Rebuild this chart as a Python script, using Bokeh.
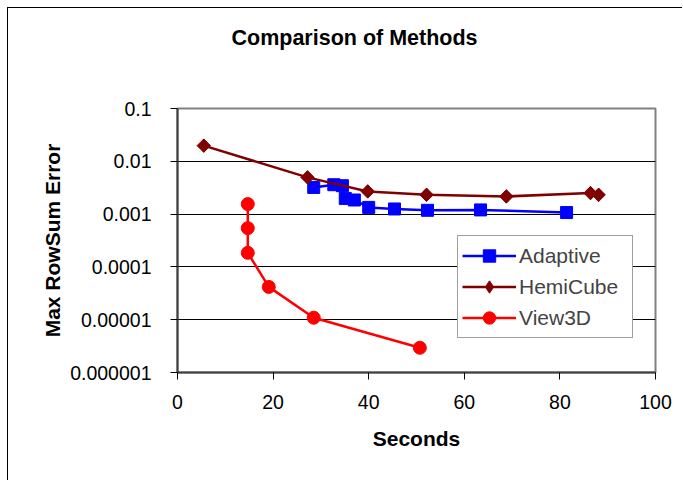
from bokeh.plotting import figure
from bokeh.models import (Range1d, FixedTicker, CustomJSTickFormatter, Legend, LegendItem, Title)
from bokeh.embed import file_html
from bokeh.resources import INLINE
import numpy as np

# ---- data ----
adaptive_x = [28.5, 32.7, 34.5, 35.1, 37.0, 40.0, 45.4, 52.3, 63.4, 81.4]
adaptive_y = [0.0032, 0.0036, 0.00345, 0.00198, 0.00185, 0.00134, 0.00125, 0.00118, 0.0012, 0.00107]

hemicube_x = [5.5, 27.2, 39.8, 52.1, 68.8, 86.4, 88.1]
hemicube_y = [0.0198, 0.00496, 0.00269, 0.00232, 0.00216, 0.0025, 0.00232]

view3d_x = [14.7, 14.7, 14.7, 19.1, 28.5, 50.7]
view3d_y = [0.00155, 0.000542, 0.000185, 0.0000418, 0.0000109, 0.00000294]

x_ticks = [0, 20, 40, 60, 80, 100]
y_ticks = [0.000001, 0.00001, 0.0001, 0.001, 0.01, 0.1]

title_text = "Comparison of Methods"
x_title = "Seconds"
y_title = "Max RowSum Error"

FONT = "Liberation Sans"

p = figure(width=675, height=473, y_axis_type="log",
           x_range=Range1d(0, 100), y_range=Range1d(1e-6, 0.1),
           output_backend="svg", toolbar_location=None, title=None,
           min_border_left=169, min_border_right=28, min_border_top=100, min_border_bottom=109)
p.styles = {"margin": "8px 0 0 8px", "box-shadow": "-1px -1px 0 0 black"}

p.outline_line_color = "#808080"
p.outline_line_width = 2
p.background_fill_color = "white"
p.border_fill_color = "white"

p.xgrid.grid_line_color = None
p.ygrid.grid_line_color = "black"
p.ygrid.grid_line_width = 1
p.ygrid.ticker = FixedTicker(ticks=y_ticks)

# axes
p.xaxis.ticker = FixedTicker(ticks=x_ticks)
p.yaxis.ticker = FixedTicker(ticks=y_ticks)
p.yaxis.formatter = CustomJSTickFormatter(code="""
const e = Math.round(Math.log10(tick));
return e >= 0 ? tick.toFixed(0) : tick.toFixed(-e);
""")
for ax in (p.xaxis, p.yaxis):
    ax.axis_line_color = "#404040"
    ax.axis_line_width = 2
    ax.major_tick_line_color = "black"
    ax.major_tick_line_width = 1
    ax.major_tick_in = 0
    ax.major_tick_out = 7
    ax.minor_tick_line_color = None
    ax.major_label_text_font = FONT
    ax.major_label_text_font_size = "19.5px"
    ax.major_label_text_color = "black"
    ax.axis_label_text_font = FONT
    ax.axis_label_text_font_style = "bold"
    ax.axis_label_text_font_size = "21px"
    ax.axis_label_text_color = "black"

p.yaxis.major_label_standoff = 19
p.xaxis.major_label_standoff = 15
p.xaxis.axis_label = x_title
p.yaxis.axis_label = y_title
p.xaxis.axis_label_standoff = 15
p.yaxis.axis_label_standoff = 3

# series
r_a_line = p.line(adaptive_x, adaptive_y, line_color="#0000FF", line_width=2.5)
r_a_pts = p.scatter(adaptive_x, adaptive_y, marker="square", size=12,
                    fill_color="#0000FF", line_color="#0000FF")

r_h_line = p.line(hemicube_x, hemicube_y, line_color="#800000", line_width=2.5)
# diamond used for the legend swatch (hidden under the rotated squares)
r_h_leg = p.scatter(hemicube_x, hemicube_y, marker="diamond", size=13,
                    fill_color="#800000", line_color="#800000")
r_h_pts = p.scatter(hemicube_x, hemicube_y, marker="square", angle=np.pi / 4, size=9.5,
                    fill_color="#800000", line_color="#800000")

r_v_line = p.line(view3d_x, view3d_y, line_color="#FF0000", line_width=2.5)
r_v_pts = p.scatter(view3d_x, view3d_y, marker="circle", size=13,
                    fill_color="#FF0000", line_color="#FF0000")

legend = Legend(items=[
    LegendItem(label="Adaptive", renderers=[r_a_line, r_a_pts]),
    LegendItem(label="HemiCube", renderers=[r_h_line, r_h_leg]),
    LegendItem(label="View3D", renderers=[r_v_line, r_v_pts]),
], location=(280, 34), margin=0, padding=4, spacing=0,
   glyph_width=54, glyph_height=31, label_standoff=3, label_width=109,
   label_text_font=FONT, label_text_font_size="21px",
   border_line_color="#404040", border_line_width=1.5,
   background_fill_color="white", background_fill_alpha=1.0)
p.add_layout(legend, "center")

# spacer between the title and the plot area, then the title itself
spacer = Title(text=" ", text_font_size="10px", standoff=45)
p.add_layout(spacer, "above")
main_title = Title(text=title_text, text_font=FONT, text_font_style="bold",
                   text_font_size="21.5px", align="left", offset=54, standoff=0,
                   vertical_align="middle", text_color="black")
p.add_layout(main_title, "above")

open("out.html", "w").write(file_html(p, INLINE))
